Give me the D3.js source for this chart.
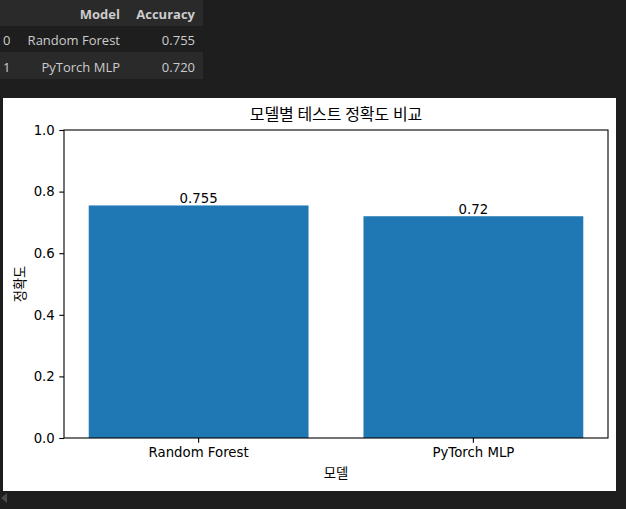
<!DOCTYPE html>
<html>
<head>
<meta charset="utf-8">
<script src="https://cdn.jsdelivr.net/npm/d3@7"></script>
<style>
  body { margin: 0; background: #1e1e1e; overflow: hidden; }
</style>
</head>
<body>
<div id="chart"></div>
<script>
// data read from the notebook output
const models = ["Random Forest", "PyTorch MLP"];
const accuracy = [0.755, 0.720];
const barLabels = ["0.755", "0.72"];
const tableAcc = ["0.755", "0.720"];
const yTicks = [0, 0.2, 0.4, 0.6, 0.8, 1.0];
const titleText = "모델별 테스트 정확도 비교";
const yLabelText = "정확도";
const xLabelText = "모델";

const W = 626, H = 509;
const svg = d3.select("#chart").append("svg")
  .attr("width", W)
  .attr("height", H);

// --- dataframe table (dark notebook theme) ---
const tbl = svg.append("g").style("font-family", "'Open Sans', 'Noto Sans', sans-serif").style("font-size", "13px");
const rowTop = [0, 26, 52];
const rowH = [26, 26, 27];
const rowBg = ["#2a2a2a", "#1e1e1e", "#2a2a2a"];
rowTop.forEach((yy, i) => {
  tbl.append("rect").attr("x", 0).attr("y", yy).attr("width", 203).attr("height", rowH[i]).attr("fill", rowBg[i]);
});
tbl.append("text").attr("x", 120).attr("y", 14).attr("dy", "0.35em").attr("text-anchor", "end")
  .attr("fill", "#cccccc").attr("font-weight", "bold").text("Model");
tbl.append("text").attr("x", 195).attr("y", 14).attr("dy", "0.35em").attr("text-anchor", "end")
  .attr("fill", "#cccccc").attr("font-weight", "bold").text("Accuracy");
models.forEach((m, i) => {
  const cy = [40, 67][i];
  tbl.append("text").attr("x", 3).attr("y", cy).attr("dy", "0.35em").attr("fill", "#cccccc").text(i);
  tbl.append("text").attr("x", 120).attr("y", cy).attr("dy", "0.35em").attr("text-anchor", "end")
    .attr("fill", "#cccccc").text(m);
  tbl.append("text").attr("x", 195).attr("y", cy).attr("dy", "0.35em").attr("text-anchor", "end")
    .attr("fill", "#cccccc").text(tableAcc[i]);
});

// --- matplotlib figure ---
svg.append("rect").attr("x", 3).attr("y", 98).attr("width", 613).attr("height", 393).attr("fill", "#ffffff");

const mLeft = 64, mRight = 608, mTop = 130, mBottom = 438;
const fig = svg.append("g").style("font-family", "'DejaVu Sans', sans-serif");

const x = d3.scaleBand()
  .domain(models)
  .range([mLeft, mRight])
  .paddingInner(0.2)
  .paddingOuter(0.09);

const y = d3.scaleLinear()
  .domain([0, 1])
  .range([mBottom, mTop]);

fig.selectAll(".bar")
  .data(models)
  .enter().append("rect")
  .attr("class", "bar")
  .attr("x", d => x(d))
  .attr("width", x.bandwidth())
  .attr("y", (d, i) => y(accuracy[i]))
  .attr("height", (d, i) => y(0) - y(accuracy[i]))
  .attr("fill", "#1f77b4");

fig.selectAll(".barlabel")
  .data(models)
  .enter().append("text")
  .attr("class", "barlabel")
  .attr("x", d => x(d) + x.bandwidth() / 2)
  .attr("y", (d, i) => y(accuracy[i]) - 2.5)
  .attr("text-anchor", "middle")
  .style("font-size", "13.3px")
  .attr("fill", "#000")
  .text((d, i) => barLabels[i]);

// axes
const yAxis = d3.axisLeft(y).tickValues(yTicks).tickFormat(d3.format(".1f")).tickSizeInner(4.7).tickSizeOuter(0).tickPadding(4.5);
const xAxis = d3.axisBottom(x).tickSizeInner(4.7).tickSizeOuter(0).tickPadding(4.5);

const gy = fig.append("g").attr("transform", `translate(${mLeft},0)`).call(yAxis);
const gx = fig.append("g").attr("transform", `translate(0,${mBottom})`).call(xAxis);
[gx, gy].forEach(g => {
  g.select(".domain").remove();
  g.selectAll("line").attr("stroke", "#000").attr("stroke-width", 1.1);
  g.selectAll("text").attr("fill", "#000").style("font-size", "13.3px").style("font-family", "'DejaVu Sans', sans-serif");
});

// frame
fig.append("rect")
  .attr("x", mLeft).attr("y", mTop)
  .attr("width", mRight - mLeft).attr("height", mBottom - mTop)
  .attr("fill", "none").attr("stroke", "#000").attr("stroke-width", 1.1);

const cjk = "'Noto Sans CJK KR', 'DejaVu Sans', sans-serif";
fig.append("text")
  .attr("x", (mLeft + mRight) / 2).attr("y", 120)
  .attr("text-anchor", "middle")
  .style("font-family", cjk).style("font-size", "16px")
  .attr("fill", "#000")
  .text(titleText);

fig.append("text")
  .attr("transform", `translate(25,${(mTop + mBottom) / 2}) rotate(-90)`)
  .attr("text-anchor", "middle")
  .style("font-family", cjk).style("font-size", "13.3px")
  .attr("fill", "#000")
  .text(yLabelText);

fig.append("text")
  .attr("x", (mLeft + mRight) / 2).attr("y", 478)
  .attr("text-anchor", "middle")
  .style("font-family", cjk).style("font-size", "13.3px")
  .attr("fill", "#000")
  .text(xLabelText);

// scrollbar arrow at the bottom left
svg.append("path").attr("d", "M1,498 L7,493 L7,503 Z").attr("fill", "#4a4a4a");
</script>
</body>
</html>
